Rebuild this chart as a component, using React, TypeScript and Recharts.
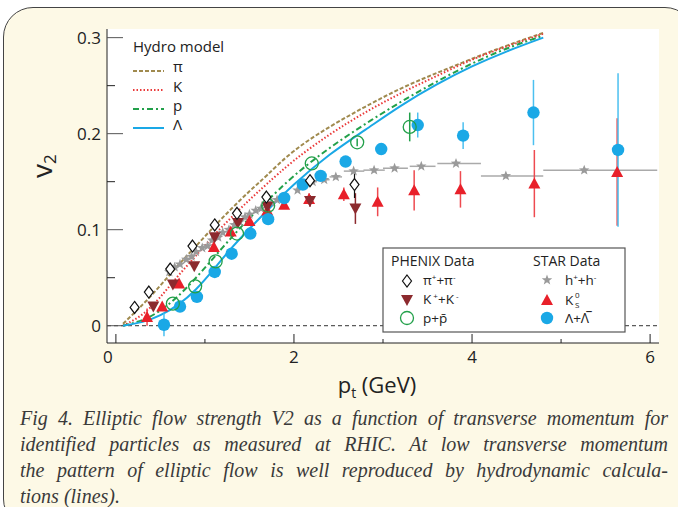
import React from "react";
import {
  ComposedChart,
  Line,
  Scatter,
  XAxis,
  YAxis,
  ErrorBar,
  ReferenceLine,
  CartesianGrid,
} from "recharts";

// hydro model curves (pt grid shared by all four)
const HYDRO_PT = [0.08, 0.3, 0.5, 0.7, 0.9, 1.1, 1.3, 1.5, 1.7, 2.0, 2.4, 2.8, 3.2, 3.6, 4.0, 4.4, 4.8];
const HYDRO_PI = [0.002, 0.022, 0.042, 0.063, 0.083, 0.103, 0.122, 0.14, 0.157, 0.182, 0.207, 0.228, 0.247, 0.263, 0.278, 0.292, 0.305];
const HYDRO_K = [0.0, 0.012, 0.03, 0.052, 0.073, 0.094, 0.113, 0.131, 0.148, 0.172, 0.199, 0.222, 0.242, 0.26, 0.277, 0.291, 0.304];
const HYDRO_P = [0.0, 0.006, 0.016, 0.031, 0.05, 0.071, 0.092, 0.112, 0.13, 0.156, 0.185, 0.21, 0.233, 0.254, 0.273, 0.289, 0.302];
const HYDRO_L = [0.0, 0.004, 0.011, 0.022, 0.038, 0.059, 0.081, 0.101, 0.12, 0.147, 0.178, 0.204, 0.229, 0.251, 0.27, 0.286, 0.3];

// PHENIX
const PI_PT = [0.21, 0.37, 0.61, 0.86, 1.11, 1.36, 1.69, 2.18, 2.68];
const PI_V2 = [0.019, 0.035, 0.059, 0.083, 0.105, 0.117, 0.134, 0.151, 0.147];
const PI_ERR = [0, 0, 0, 0, 0, 0, 0, 0.003, 0.014];

const KPM_PT = [0.42, 0.64, 0.88, 1.11, 1.37, 1.7, 2.18, 2.69];
const KPM_V2 = [0.02, 0.043, 0.062, 0.092, 0.107, 0.124, 0.13, 0.122];
const KPM_ERR = [0, 0, 0, 0, 0, 0, 0.006, 0.016];

const PP_PT = [0.64, 0.89, 1.12, 1.36, 1.71, 2.2, 2.71, 3.3];
const PP_V2 = [0.023, 0.041, 0.067, 0.096, 0.125, 0.169, 0.191, 0.207];
const PP_ERR = [0, 0, 0, 0, 0, 0, 0.004, 0.015];

// STAR
const H_PT = [0.6, 0.66, 0.72, 0.79, 0.85, 0.9, 0.97, 1.03, 1.08, 1.15, 1.2, 1.27, 1.33, 1.39, 1.45, 1.5, 1.57, 1.63, 1.69, 1.75, 1.81, 1.89, 2.04, 2.21, 2.34, 2.47, 2.67, 2.9, 3.13, 3.43, 3.82, 4.38, 5.26];
const H_V2 = [0.056, 0.061, 0.064, 0.069, 0.072, 0.077, 0.081, 0.083, 0.089, 0.092, 0.097, 0.1, 0.105, 0.108, 0.113, 0.116, 0.12, 0.122, 0.126, 0.128, 0.131, 0.134, 0.141, 0.15, 0.152, 0.155, 0.161, 0.162, 0.164, 0.166, 0.169, 0.156, 0.162];
const H_XLO = [0, 0, 0, 0, 0, 0, 0, 0, 0, 0, 0, 0, 0, 0, 0, 0, 0, 0, 0, 0, 0, 0, 0, 0.05, 0.06, 0.07, 0.11, 0.12, 0.13, 0.13, 0.21, 0.28, 0.46];
const H_XHI = [0, 0, 0, 0, 0, 0, 0, 0, 0, 0, 0, 0, 0, 0, 0, 0, 0, 0, 0, 0, 0, 0, 0, 0.05, 0.06, 0.07, 0.12, 0.12, 0.15, 0.16, 0.28, 0.42, 0.82];

const K0_PT = [0.35, 0.52, 0.71, 1.1, 1.29, 1.5, 1.7, 1.89, 2.17, 2.56, 2.94, 3.35, 3.87, 4.7, 5.63];
const K0_V2 = [0.009, 0.02, 0.044, 0.082, 0.098, 0.109, 0.12, 0.126, 0.132, 0.137, 0.129, 0.141, 0.142, 0.148, 0.16];
const K0_ERR = [0.009, 0, 0, 0, 0, 0, 0, 0, 0.006, 0.007, 0.015, 0.021, 0.019, 0.035, 0.056];

const LAM_PT = [0.54, 0.72, 0.91, 1.11, 1.3, 1.51, 1.71, 1.89, 2.1, 2.3, 2.58, 2.98, 3.39, 3.9, 4.69, 5.64];
const LAM_V2 = [0.001, 0.02, 0.03, 0.056, 0.075, 0.096, 0.111, 0.133, 0.147, 0.156, 0.171, 0.184, 0.209, 0.198, 0.222, 0.183];
const LAM_ERR = [0.012, 0, 0, 0, 0, 0, 0, 0, 0, 0, 0, 0.005, 0.013, 0.014, 0.034, 0.08];

const X_TICKS = [0, 1, 2, 3, 4, 5, 6];
const Y_TICKS = [0, 0.05, 0.1, 0.15, 0.2, 0.25, 0.3];

const FONT = "'Open Sans', 'Noto Sans', sans-serif";
const INK = "#222";

const hydro = HYDRO_PT.map((x, i) => ({ x, pi: HYDRO_PI[i], k: HYDRO_K[i], p: HYDRO_P[i], l: HYDRO_L[i] }));
const pts = (xs: number[], ys: number[], es: number[]) => xs.map((x, i) => ({ x, y: ys[i], e: es[i] }));
const stars = H_PT.map((x, i) => ({ x, y: H_V2[i], ex: [H_XLO[i], H_XHI[i]] }));

const isMajorY = (v: number) => Math.abs(v * 10 - Math.round(v * 10)) < 1e-6;

const BottomTick = (p: any) => {
  const v = p.payload.value;
  const major = v % 2 === 0;
  return (
    <g>
      <line x1={p.x} x2={p.x} y1={p.y} y2={p.y - (major ? 9 : 4)} stroke={INK} />
      {major && (
        <text x={p.x + (v === 0 ? -8 : 0)} y={p.y + 20} textAnchor="middle" fontSize={17} fontFamily={FONT} fill={INK}>
          {v}
        </text>
      )}
    </g>
  );
};

const TopTick = (p: any) => {
  const major = p.payload.value % 2 === 0;
  return <line x1={p.x} x2={p.x} y1={p.y} y2={p.y + (major ? 9 : 4)} stroke={INK} />;
};

const LeftTick = (p: any) => {
  const v = p.payload.value;
  const major = isMajorY(v);
  return (
    <g>
      <line x1={p.x} x2={p.x + (major ? 16 : 8)} y1={p.y} y2={p.y} stroke={major ? "#555" : INK} />
      {major && (
        <text x={p.x - 6} y={p.y + 6} textAnchor="end" fontSize={17} fontFamily={FONT} fill={INK}>
          {v === 0 ? "0" : v.toFixed(1)}
        </text>
      )}
    </g>
  );
};

const RightTick = (p: any) => {
  const major = isMajorY(p.payload.value);
  return <line x1={p.x} x2={p.x - (major ? 16 : 8)} y1={p.y} y2={p.y} stroke={INK} />;
};

const Diamond = ({ cx, cy }: any) => (
  <path d={`M${cx},${cy - 6}L${cx + 4.5},${cy}L${cx},${cy + 6}L${cx - 4.5},${cy}Z`} fill="#fff" stroke="#111" strokeWidth={1.2} />
);
const TriDown = ({ cx, cy }: any) => (
  <path d={`M${cx - 6},${cy - 5}L${cx + 6},${cy - 5}L${cx},${cy + 6}Z`} fill="#8c2a2e" />
);
const TriUp = ({ cx, cy }: any) => <path d={`M${cx - 6},${cy + 5}L${cx + 6},${cy + 5}L${cx},${cy - 6}Z`} fill="#e8202a" />;
const Ring = ({ cx, cy }: any) => <circle cx={cx} cy={cy} r={6.5} fill="none" stroke="#22a04a" strokeWidth={1.3} />;
const Dot = ({ cx, cy }: any) => <circle cx={cx} cy={cy} r={6.2} fill="#1aa8e6" />;
const starPath = (cx: number, cy: number, ro: number, ri: number) => {
  let d = "";
  for (let i = 0; i < 10; i++) {
    const r = i % 2 === 0 ? ro : ri;
    const a = -Math.PI / 2 + (i * Math.PI) / 5;
    d += `${i === 0 ? "M" : "L"}${cx + r * Math.cos(a)},${cy + r * Math.sin(a)}`;
  }
  return d + "Z";
};
const Star = ({ cx, cy }: any) => <path d={starPath(cx, cy, 5.5, 2.3)} fill="#9a9a9a" />;

const Legends = () => (
  <svg width={678} height={507} style={{ position: "absolute", left: 0, top: 0, pointerEvents: "none" }} fontFamily={FONT}>
    {/* axis titles */}
    <text transform="translate(52,178) rotate(-90)" fontSize={28} fill={INK}>
      v<tspan fontSize={17} dy={4}>2</tspan>
    </text>
    <text x={377} y={393} textAnchor="middle" fontSize={22} fill={INK}>
      p<tspan fontSize={14} dy={5}>t</tspan>
      <tspan dy={-5}> (GeV)</tspan>
    </text>

    {/* hydro legend */}
    <text x={133} y={52} fontSize={15} fill={INK}>Hydro model</text>
    <line x1={133} x2={164} y1={71} y2={71} stroke="#a08a4e" strokeWidth={2} strokeDasharray="4 2" />
    <text x={173} y={72} fontSize={15} fill={INK}>π</text>
    <line x1={133} x2={164} y1={90} y2={90} stroke="#ea3a3a" strokeWidth={2} strokeDasharray="1.5 2" />
    <text x={173} y={92} fontSize={15} fill={INK}>K</text>
    <line x1={133} x2={164} y1={109} y2={109} stroke="#22a04a" strokeWidth={2} strokeDasharray="6 3 2 3" />
    <text x={173} y={111} fontSize={15} fill={INK}>p</text>
    <line x1={133} x2={164} y1={128} y2={128} stroke="#1aa8e6" strokeWidth={2} />
    <text x={173} y={130} fontSize={15} fill={INK}>Λ</text>

    {/* data legend */}
    <rect x={383} y={248} width={242} height={84} fill="#fff" stroke="#555" strokeWidth={1.2} />
    <text x={391} y={266} fontSize={14} fill={INK}>PHENIX Data</text>
    <text x={533} y={266} fontSize={14} fill={INK}>STAR Data</text>
    <Diamond cx={407} cy={281} />
    <text x={423} y={285} fontSize={13.5} fill={INK}>
      π<tspan fontSize={8} dy={-5}>+</tspan><tspan dy={5}>+π</tspan><tspan fontSize={8} dy={-5}>-</tspan>
    </text>
    <TriDown cx={407} cy={300} />
    <text x={423} y={304} fontSize={13.5} fill={INK}>
      K<tspan fontSize={8} dy={-5}> +</tspan><tspan dy={5}>+K</tspan><tspan fontSize={8} dy={-5}> -</tspan>
    </text>
    <Ring cx={407} cy={318} />
    <text x={423} y={323} fontSize={13.5} fill={INK}>
      p+p{"\u0304"}
    </text>
    <Star cx={547} cy={280} />
    <text x={565} y={285} fontSize={13.5} fill={INK}>
      h<tspan fontSize={8} dy={-5}>+</tspan><tspan dy={5}>+h</tspan><tspan fontSize={8} dy={-5}>-</tspan>
    </text>
    <TriUp cx={547} cy={300} />
    <text x={565} y={305} fontSize={13.5} fill={INK}>K</text>
    <text x={575} y={298} fontSize={8} fill={INK}>0</text>
    <text x={575} y={308} fontSize={8} fill={INK}>S</text>
    <Dot cx={547} cy={318} />
    <text x={565} y={323} fontSize={13.5} fill={INK}>
      Λ+Λ{"\u0305"}
    </text>
  </svg>
);

const CAPTION = [
  "Fig 4. Elliptic flow strength V2 as a function of transverse momentum  for",
  "identified particles as measured at RHIC. At low transverse momentum",
  "the pattern of elliptic flow is well reproduced by hydrodynamic calcula-",
  "tions (lines).",
];

export default function App() {
  return (
    <div style={{ position: "absolute", left: 0, top: 0, width: 678, height: 507, overflow: "hidden", background: "#fff" }}>
      <div
        style={{
          position: "absolute",
          left: 3,
          top: 7,
          width: 690,
          height: 520,
          borderRadius: 30,
          border: "1.5px solid #444",
          background: "#fdf9e6",
        }}
      />
      <div style={{ position: "absolute", left: 0, top: 0 }}>
        <ComposedChart width={678} height={373} margin={{ top: 29, right: 19, bottom: 0, left: 0 }}>
          <CartesianGrid horizontal={false} vertical={false} fill="#fff" />
          <XAxis
            type="number"
            dataKey="x"
            domain={[-0.1, 6.1]}
            ticks={X_TICKS}
            height={30}
            tickSize={0}
            tickMargin={0}
            tickLine={false}
            tick={<BottomTick />}
            axisLine={{ stroke: INK }}
            allowDataOverflow
          />
          <XAxis
            xAxisId="top"
            orientation="top"
            type="number"
            domain={[-0.1, 6.1]}
            ticks={X_TICKS}
            height={0}
            tickSize={0}
            tickMargin={0}
            tickLine={false}
            tick={<TopTick />}
            axisLine={{ stroke: INK }}
            allowDataOverflow
          />
          <YAxis
            type="number"
            domain={[-0.018, 0.309]}
            ticks={Y_TICKS}
            width={107}
            tickSize={0}
            tickMargin={0}
            tickLine={false}
            tick={<LeftTick />}
            axisLine={{ stroke: INK }}
            allowDataOverflow
          />
          <YAxis
            yAxisId="right"
            orientation="right"
            type="number"
            domain={[-0.018, 0.309]}
            ticks={Y_TICKS}
            width={0}
            tickSize={0}
            tickMargin={0}
            tickLine={false}
            tick={<RightTick />}
            axisLine={{ stroke: INK }}
            allowDataOverflow
          />
          <ReferenceLine y={0} stroke="#333" strokeDasharray="4 3" />

          <Line data={hydro} dataKey="pi" type="natural" stroke="#a08a4e" strokeWidth={2} strokeDasharray="4 2" dot={false} activeDot={false} isAnimationActive={false} />
          <Line data={hydro} dataKey="k" type="natural" stroke="#ea3a3a" strokeWidth={2} strokeDasharray="1.5 2" dot={false} activeDot={false} isAnimationActive={false} />
          <Line data={hydro} dataKey="p" type="natural" stroke="#22a04a" strokeWidth={2} strokeDasharray="6 3 2 3" dot={false} activeDot={false} isAnimationActive={false} />
          <Line data={hydro} dataKey="l" type="natural" stroke="#1aa8e6" strokeWidth={2} dot={false} activeDot={false} isAnimationActive={false} />

          <Scatter data={stars} dataKey="y" shape={<Star />} isAnimationActive={false}>
            <ErrorBar dataKey="ex" direction="x" width={0} stroke="#aaa" strokeWidth={1.5} />
          </Scatter>
          <Scatter data={pts(K0_PT, K0_V2, K0_ERR)} dataKey="y" shape={<TriUp />} isAnimationActive={false}>
            <ErrorBar dataKey="e" direction="y" width={0} stroke="#ee4a50" strokeWidth={1.5} />
          </Scatter>
          <Scatter data={pts(LAM_PT, LAM_V2, LAM_ERR)} dataKey="y" shape={<Dot />} isAnimationActive={false}>
            <ErrorBar dataKey="e" direction="y" width={0} stroke="#4cc0f0" strokeWidth={1.5} />
          </Scatter>
          <Scatter data={pts(KPM_PT, KPM_V2, KPM_ERR)} dataKey="y" shape={<TriDown />} isAnimationActive={false}>
            <ErrorBar dataKey="e" direction="y" width={0} stroke="#8c2a2e" strokeWidth={1.5} />
          </Scatter>
          <Scatter data={pts(PP_PT, PP_V2, PP_ERR)} dataKey="y" shape={<Ring />} isAnimationActive={false}>
            <ErrorBar dataKey="e" direction="y" width={0} stroke="#22a04a" strokeWidth={1.5} />
          </Scatter>
          <Scatter data={pts(PI_PT, PI_V2, PI_ERR)} dataKey="y" shape={<Diamond />} isAnimationActive={false}>
            <ErrorBar dataKey="e" direction="y" width={0} stroke="#111" strokeWidth={1.2} />
          </Scatter>
        </ComposedChart>
      </div>
      <Legends />
      <div
        style={{
          position: "absolute",
          left: 20,
          top: 405,
          width: 648,
          fontFamily: "'Liberation Serif', serif",
          fontStyle: "italic",
          fontSize: 20,
          lineHeight: "26px",
          color: "#3a3a3a",
        }}
      >
        {CAPTION.map((line, i) => (
          <div key={i} style={{ textAlign: i < 3 ? "justify" : "left", textAlignLast: i < 3 ? "justify" : "left", whiteSpace: "nowrap" }}>
            {line}
          </div>
        ))}
      </div>
    </div>
  );
}
